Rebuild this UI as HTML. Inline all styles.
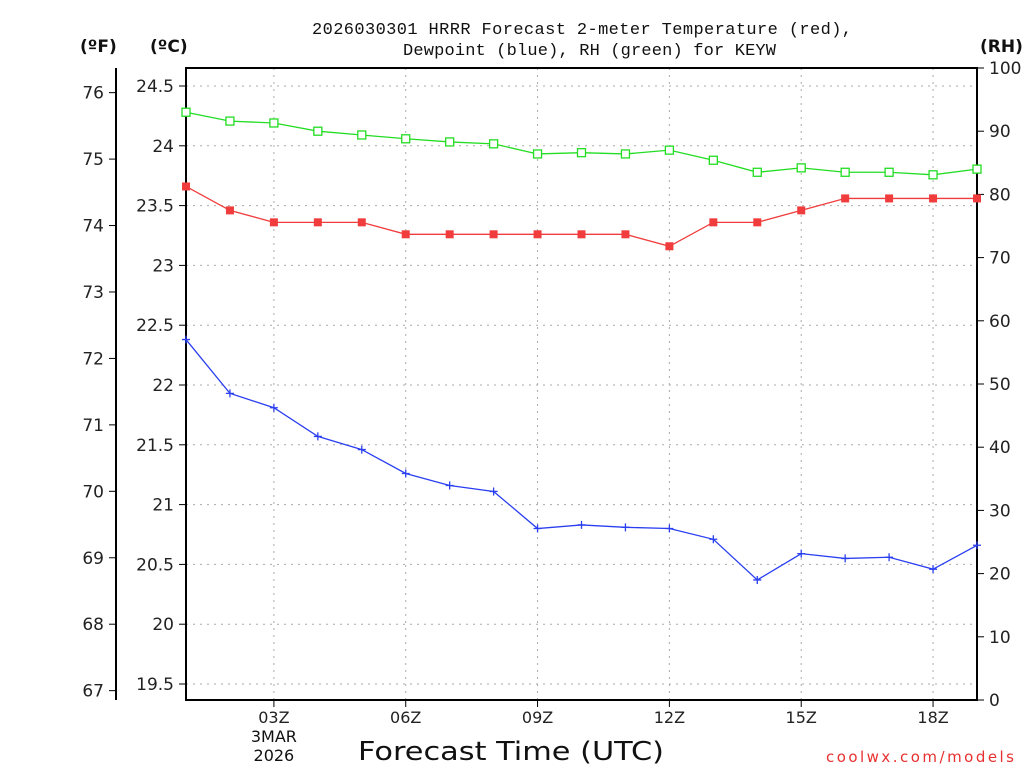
<!DOCTYPE html>
<html><head><meta charset="utf-8"><style>
body{margin:0;background:#fff;}
svg{display:block;font-family:"DejaVu Sans","Liberation Sans",sans-serif;}
</style></head><body>
<svg id="c" width="1024" height="768"></svg>
<script>
const hours=[1,2,3,4,5,6,7,8,9,10,11,12,13,14,15,16,17,18,19];
const tempC=[23.66,23.46,23.36,23.36,23.36,23.26,23.26,23.26,23.26,23.26,23.26,23.16,23.36,23.36,23.46,23.56,23.56,23.56,23.56];
const dewC=[22.38,21.93,21.81,21.57,21.46,21.26,21.16,21.11,20.80,20.83,20.81,20.80,20.71,20.37,20.59,20.55,20.56,20.46,20.66];
const rh=[93.0,91.6,91.3,90.0,89.4,88.8,88.3,88.0,86.4,86.6,86.4,87.0,85.4,83.5,84.2,83.5,83.5,83.1,84.0];
const cTicks=[24.5,24,23.5,23,22.5,22,21.5,21,20.5,20,19.5];
const fTicks=[76,75,74,73,72,71,70,69,68,67];
const rhTicks=[100,90,80,70,60,50,40,30,20,10,0];
const xTicks=[3,6,9,12,15,18];
const xTickLabels=["03Z","06Z","09Z","12Z","15Z","18Z"];

const L=186,R=977,T=68,B=700;
const xs=h=>L+(h-1)*(R-L)/18;
const yc=c=>86+(24.5-c)*119.6;
const yf=f=>yc((f-32)*5/9);
const yr=r=>B-r*(B-T)/100;
const svg=document.getElementById('c');
const NS='http://www.w3.org/2000/svg';
function mk(tag,attrs,txt){const e=document.createElementNS(NS,tag);for(const k in attrs)e.setAttribute(k,attrs[k]);if(txt!==undefined)e.textContent=txt;svg.appendChild(e);return e;}
cTicks.forEach(c=>{const e=mk('line',{x1:L,x2:R,y1:yc(c),y2:yc(c),stroke:'#aaa','stroke-dasharray':'2,5'});

});
xTicks.forEach(h=>{const e=mk('line',{x1:xs(h),x2:xs(h),y1:T,y2:B,stroke:'#aaa','stroke-dasharray':'2,5'});

});
const fr=mk('rect',{x:L,y:T,width:R-L,height:B-T,fill:'none',stroke:'#000','stroke-width':2});


const fa=mk('line',{x1:116,x2:116,y1:T,y2:B,stroke:'#000','stroke-width':2});


cTicks.forEach(c=>{mk('line',{x1:L-7,x2:L,y1:yc(c),y2:yc(c),stroke:'#000'});
const t=mk('text',{x:L-12,y:yc(c)+6,'text-anchor':'end','font-size':17,fill:'#222'},String(c));

});
fTicks.forEach(f=>{mk('line',{x1:109,x2:116,y1:yf(f),y2:yf(f),stroke:'#000'});
const t=mk('text',{x:104,y:yf(f)+6,'text-anchor':'end','font-size':17,fill:'#222'},String(f));

});
rhTicks.forEach(r=>{mk('line',{x1:R,x2:R+7,y1:yr(r),y2:yr(r),stroke:'#000'});
const t=mk('text',{x:989,y:yr(r)+6,'font-size':17,fill:'#222'},String(r));

});
xTicks.forEach((h,i)=>{mk('line',{x1:xs(h),x2:xs(h),y1:B,y2:B+7,stroke:'#000'});
const t=mk('text',{x:xs(h),y:723,'text-anchor':'middle','font-size':16,fill:'#222'},xTickLabels[i]);

});
function lab(x,y,s,txt,name,extra){const t=mk('text',Object.assign({x:x,y:y,'font-size':s,fill:'#111'},extra||{}),txt);

return t;}
lab(xs(3),742,16,'3MAR','date-label',{'text-anchor':'middle'});
lab(xs(3),761,16,'2026','year-label',{'text-anchor':'middle'});
lab(358,760,26,'Forecast Time (UTC)','x-axis-title',{textLength:306,lengthAdjust:'spacingAndGlyphs'});
lab(826,762,15,'coolwx.com/models','watermark',{textLength:188,fill:'#e83030'});
lab(312,34,17,'2026030301 HRRR Forecast 2-meter Temperature (red),','title-line-1',{'font-family':'Liberation Mono, monospace',textLength:540});
lab(403,55,17,'Dewpoint (blue), RH (green) for KEYW','title-line-2',{'font-family':'Liberation Mono, monospace',textLength:373});
lab(80,52,17,'(ºF)','fahrenheit-axis-title',{'font-weight':'bold'});
lab(150,52,17,'(ºC)','celsius-axis-title',{'font-weight':'bold'});
lab(980,52,17,'(RH)','rh-axis-title',{'font-weight':'bold'});
function series(vals,yfun,color,name,marker){
 const pts=vals.map((v,i)=>xs(hours[i])+','+yfun(v)).join(' ');
 const p=mk('polyline',{points:pts,fill:'none',stroke:color,'stroke-width':1.3});
 
 
 vals.forEach((v,i)=>{const x=xs(hours[i]),y=yfun(v);let m;
  if(marker==='fill')m=mk('rect',{x:x-4,y:y-4,width:8,height:8,fill:color});
  else if(marker==='open')m=mk('rect',{x:x-4,y:y-4,width:8,height:8,fill:'#fff',stroke:color,'stroke-width':1.3});
  else m=mk('path',{d:`M${x-4},${y}H${x+4}M${x},${y-4}V${y+4}`,stroke:color,'stroke-width':1.3});
  
  });
}
series(rh,yr,'#22dd22','rh','open');
series(tempC,yc,'#f03c3c','temperature','fill');
series(dewC,yc,'#2a3ff0','dewpoint','plus');
</script>
</body></html>
